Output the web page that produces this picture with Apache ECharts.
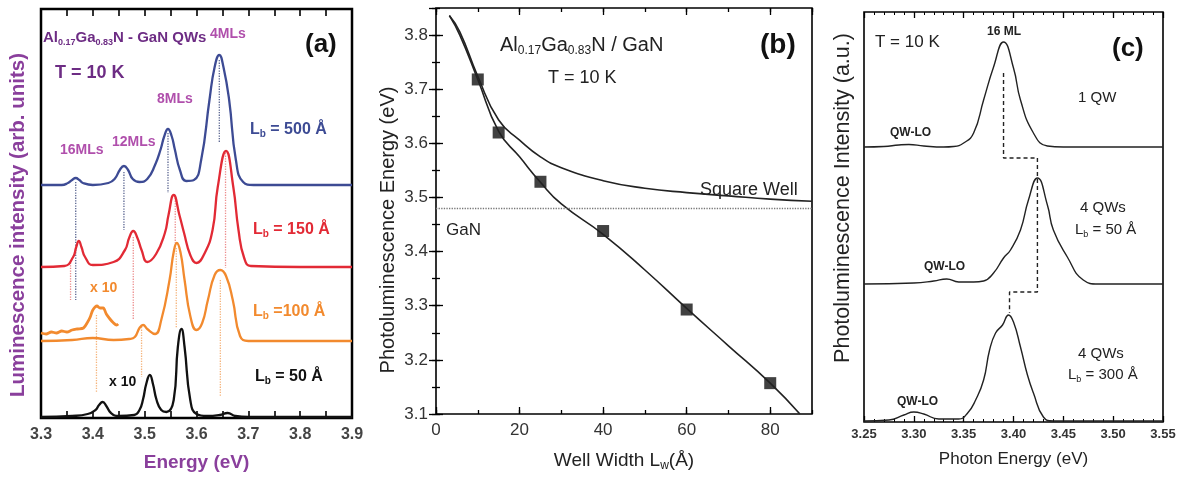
<!DOCTYPE html>
<html><head><meta charset="utf-8">
<script src="https://cdn.jsdelivr.net/npm/echarts@6/dist/echarts.min.js"></script>
<style>html,body{margin:0;padding:0;background:#fff}#c{width:1183px;height:477px}</style>
</head><body><div id="c"></div>
<script>
// ---------- Panel (a): PL spectra, energy (eV) vs intensity (arb. units, offset) ----------
const aLb500 = [[3.30,23.3],[3.34,23.3],[3.352,23.5],[3.360,23.8],[3.367,24.0],[3.374,23.8],[3.381,23.5],[3.40,23.3],[3.43,23.5],[3.442,23.9],[3.452,24.8],[3.460,25.2],[3.468,24.8],[3.477,23.9],[3.490,23.6],[3.505,23.9],[3.520,25.3],[3.531,26.9],[3.538,28.2],[3.545,28.9],[3.552,28.2],[3.558,26.9],[3.568,24.8],[3.580,23.7],[3.595,23.8],[3.609,25.8],[3.625,31.8],[3.635,35.1],[3.644,36.3],[3.652,35.1],[3.663,31.8],[3.676,25.8],[3.690,23.6],[3.71,23.3],[3.80,23.3],[3.90,23.3]];
const aLb150 = [[3.30,15.1],[3.345,15.2],[3.362,16.1],[3.368,17.1],[3.373,17.7],[3.378,17.1],[3.385,16.1],[3.40,15.3],[3.44,15.6],[3.462,16.8],[3.470,18.0],[3.478,18.7],[3.486,18.0],[3.494,16.8],[3.505,15.6],[3.522,16.4],[3.539,18.5],[3.546,20.3],[3.556,22.3],[3.567,20.3],[3.576,18.5],[3.588,16.3],[3.600,15.5],[3.615,16.4],[3.631,18.8],[3.641,23.1],[3.657,26.7],[3.671,23.1],[3.681,18.8],[3.692,16.0],[3.705,15.2],[3.80,15.1],[3.90,15.1]];
const aLb100 = [[3.30,7.7],[3.36,7.8],[3.40,8.0],[3.44,7.8],[3.470,7.9],[3.481,8.1],[3.490,9.0],[3.497,9.3],[3.505,8.9],[3.520,8.4],[3.532,9.8],[3.548,13.8],[3.556,16.6],[3.562,17.5],[3.569,16.6],[3.577,13.8],[3.588,10.2],[3.600,8.8],[3.611,9.5],[3.622,11.8],[3.635,14.3],[3.646,14.8],[3.657,14.2],[3.670,11.8],[3.684,8.2],[3.700,7.7],[3.80,7.7],[3.90,7.7]];
const aLb100x10 = [[3.300,8.5],[3.310,8.4],[3.320,8.6],[3.330,8.5],[3.340,8.7],[3.350,8.6],[3.360,8.8],[3.370,8.9],[3.382,9.0],[3.390,9.6],[3.395,10.1],[3.400,10.8],[3.408,11.2],[3.414,11.0],[3.420,11.0],[3.426,10.4],[3.433,9.9],[3.440,9.5],[3.446,9.3],[3.449,9.4]];
const aLb50 = [[3.30,0.1],[3.36,0.2],[3.39,0.4],[3.405,0.8],[3.412,1.3],[3.419,1.6],[3.426,1.2],[3.435,0.5],[3.45,0.2],[3.48,0.3],[3.490,0.8],[3.497,1.9],[3.503,3.4],[3.510,4.3],[3.516,3.4],[3.523,1.8],[3.532,0.8],[3.542,0.6],[3.556,1.8],[3.564,7.1],[3.571,8.9],[3.577,7.1],[3.588,1.8],[3.600,0.4],[3.62,0.2],[3.645,0.3],[3.660,0.5],[3.675,0.2],[3.70,0.1],[3.90,0.1]];
// dotted guide lines: [energy, top, bottom]
const aGuideBlue = [[3.367,23.6,11.8],[3.460,24.6,18.8],[3.545,28.5,22.5],[3.644,35.8,27.5]];
const aGuideRed = [[3.357,15.8,11.8],[3.478,18.1,9.8],[3.559,22.0,17.5],[3.656,26.5,15.0]];
const aGuideOrange = [[3.407,10.3,2.6],[3.494,9.1,4.1],[3.561,17.0,9.0],[3.646,13.8,2.1]];

// ---------- Panel (b): PL energy vs well width ----------
const bWellWidth = [10, 15, 25, 40, 60, 80];
const bEnergy = [3.718, 3.620, 3.529, 3.438, 3.293, 3.157];
const bFitW = [3.2, 5.7, 10, 15, 20, 25, 30, 40, 50, 60, 70, 80, 87.1];
const bFitE = [3.836, 3.800, 3.718, 3.622, 3.575, 3.528, 3.488, 3.432, 3.366, 3.295, 3.226, 3.157, 3.100];
const bSqW = [3.2, 5.7, 10, 15, 20, 25, 30, 40, 50, 60, 70, 80, 90];
const bSqE = [3.836, 3.806, 3.724, 3.643, 3.606, 3.575, 3.555, 3.531, 3.517, 3.509, 3.503, 3.497, 3.493];
const bGaN = 3.48;

// ---------- Panel (c): PL spectra ----------
const c1QW = [[3.25,27.5],[3.27,27.55],[3.285,27.7],[3.295,27.75],[3.31,27.6],[3.33,27.5],[3.34,27.55],[3.35,27.9],[3.36,28.9],[3.37,32.2],[3.38,35.5],[3.39,38.0],[3.40,35.4],[3.407,32.2],[3.42,28.9],[3.434,27.6],[3.45,27.5],[3.55,27.5]];
const c4QW50 = [[3.25,13.8],[3.30,13.9],[3.32,14.1],[3.333,14.3],[3.345,14.0],[3.36,14.0],[3.37,14.1],[3.38,14.9],[3.39,16.4],[3.397,17.2],[3.407,19.2],[3.415,22.2],[3.424,24.4],[3.434,21.7],[3.44,19.2],[3.454,16.5],[3.47,14.2],[3.485,13.8],[3.55,13.8]];
const c4QW300 = [[3.25,0.1],[3.275,0.2],[3.29,0.7],[3.30,1.0],[3.31,0.8],[3.325,0.3],[3.345,0.3],[3.354,0.9],[3.362,2.2],[3.37,4.2],[3.376,7.2],[3.382,8.9],[3.389,9.7],[3.395,10.7],[3.40,10.0],[3.407,7.5],[3.414,4.7],[3.42,2.9],[3.43,0.5],[3.44,0.1],[3.55,0.1]];
const cGuide = [[3.390,34.9],[3.390,26.4],[3.424,26.4],[3.424,13.0],[3.396,13.0],[3.396,10.9]];

const F = "'Liberation Sans', Arial, sans-serif";
const BLUE = '#3d4b94', RED = '#e22a35', ORANGE = '#f28a2e', PURPLE = '#6d2c84', PINK = '#b04fac';

function txt(x, y, text, size, color, weight, subSize) {
  const sub = subSize || Math.round(size * 0.6);
  return {
    type: 'text', x: x, y: y, silent: true,
    style: {
      text: text, fill: color, fontSize: size, fontWeight: weight || 'normal', fontFamily: F,
      align: 'left', verticalAlign: 'middle', lineHeight: size + 3,
      rich: { s: { fontSize: sub, fontWeight: weight || 'normal', fontFamily: F, fill: color, verticalAlign: 'bottom', lineHeight: 6 } }
    }
  };
}
function vtxt(x, y, text, size, color, weight) {
  return {
    type: 'text', x: x, y: y, rotation: Math.PI / 2, silent: true,
    style: { text: text, fill: color, fontSize: size, fontWeight: weight || 'normal', fontFamily: F,
      align: 'center', verticalAlign: 'middle' }
  };
}

function lineS(data, color, width, xi, yi, extra) {
  return Object.assign({
    type: 'line', data: data, xAxisIndex: xi, yAxisIndex: yi, showSymbol: false, symbol: 'none',
    smooth: 0.5, silent: true,
    lineStyle: { color: color, width: width }
  }, extra || {});
}

function guides(list, color, xi, yi) {
  return list.map(g => ({
    type: 'line', xAxisIndex: xi, yAxisIndex: yi, symbol: 'none', silent: true, z: 1,
    data: [[g[0], g[1]], [g[0], g[2]]],
    lineStyle: { color: color, width: 1.3, type: 'dotted' }
  }));
}

const tickStyle = (len, w) => ({ show: true, inside: true, length: len, lineStyle: { color: '#000', width: w || 1.3 } });
const noAxis = { axisLine: { show: false }, splitLine: { show: false } };

const xAxis = [
  Object.assign({ type: 'value', gridIndex: 0, position: 'bottom', min: 3.3, max: 3.9, interval: 0.1,
    axisTick: tickStyle(7, 1.6), minorTick: { show: true, splitNumber: 2, length: 7, lineStyle: { color: '#000', width: 1.6 } },
    axisLabel: { formatter: v => v.toFixed(1), fontSize: 16, fontWeight: 'bold', fontFamily: F, color: '#444', margin: 9 },
    name: 'Energy (eV)', nameLocation: 'middle', nameGap: 35,
    nameTextStyle: { fontSize: 19, fontWeight: 'bold', fontFamily: F, color: '#8a3f9c' } }, noAxis),
  Object.assign({ type: 'value', gridIndex: 0, position: 'top', min: 3.3, max: 3.9, interval: 0.1,
    axisTick: tickStyle(7, 1.6), minorTick: { show: true, splitNumber: 2, length: 7, lineStyle: { color: '#000', width: 1.6 } },
    axisLabel: { show: false } }, noAxis),
  Object.assign({ type: 'value', gridIndex: 1, position: 'bottom', min: 0, max: 90, interval: 20,
    axisTick: tickStyle(7), axisLabel: { showMaxLabel: false, fontSize: 17, fontFamily: F, color: '#333', margin: 8 },
    name: 'Well Width L{s|w}(Å)', nameLocation: 'middle', nameGap: 36,
    nameTextStyle: { fontSize: 19, fontFamily: F, color: '#222', lineHeight: 22,
      rich: { s: { fontSize: 12, fontFamily: F, color: '#222', verticalAlign: 'bottom', lineHeight: 6 } } } }, noAxis),
  Object.assign({ type: 'value', gridIndex: 1, position: 'bottom', min: 0, max: 90, interval: 10,
    axisTick: tickStyle(4), axisLabel: { show: false } }, noAxis),
  Object.assign({ type: 'value', gridIndex: 1, position: 'top', min: 0, max: 90, interval: 20,
    axisTick: tickStyle(7), axisLabel: { show: false } }, noAxis),
  Object.assign({ type: 'value', gridIndex: 1, position: 'top', min: 0, max: 90, interval: 10,
    axisTick: tickStyle(4), axisLabel: { show: false } }, noAxis),
  Object.assign({ type: 'value', gridIndex: 2, position: 'bottom', min: 3.25, max: 3.55, interval: 0.05,
    axisTick: tickStyle(6), minorTick: { show: true, splitNumber: 5, length: 3, lineStyle: { color: '#000', width: 1 } },
    axisLabel: { formatter: v => v.toFixed(2), fontSize: 13, fontWeight: 'bold', fontFamily: F, color: '#333', margin: 6 },
    name: 'Photon Energy (eV)', nameLocation: 'middle', nameGap: 29,
    nameTextStyle: { fontSize: 17, fontFamily: F, color: '#222' } }, noAxis),
  Object.assign({ type: 'value', gridIndex: 2, position: 'top', min: 3.25, max: 3.55, interval: 0.05,
    axisTick: tickStyle(6), minorTick: { show: true, splitNumber: 5, length: 3, lineStyle: { color: '#000', width: 1 } },
    axisLabel: { show: false } }, noAxis)
];

const yAxis = [
  Object.assign({ type: 'value', gridIndex: 0, position: 'left', min: 0, max: 40.9,
    axisTick: { show: false }, axisLabel: { show: false } }, noAxis),
  Object.assign({ type: 'value', gridIndex: 1, position: 'left', min: 3.1, max: 3.85, interval: 0.1,
    axisTick: tickStyle(7), axisLabel: { showMaxLabel: false, formatter: v => v.toFixed(1), fontSize: 17, fontFamily: F, color: '#333', margin: 8 } }, noAxis),
  Object.assign({ type: 'value', gridIndex: 1, position: 'left', min: 3.1, max: 3.85, interval: 0.05,
    axisTick: tickStyle(4), axisLabel: { show: false } }, noAxis),
  Object.assign({ type: 'value', gridIndex: 1, position: 'right', min: 3.1, max: 3.85, interval: 0.1,
    axisTick: tickStyle(7), axisLabel: { show: false } }, noAxis),
  Object.assign({ type: 'value', gridIndex: 1, position: 'right', min: 3.1, max: 3.85, interval: 0.05,
    axisTick: tickStyle(4), axisLabel: { show: false } }, noAxis),
  Object.assign({ type: 'value', gridIndex: 2, position: 'left', min: 0, max: 41,
    axisTick: { show: false }, axisLabel: { show: false } }, noAxis)
];

const series = [].concat(
  guides(aGuideBlue, '#5a6590', 0, 0),
  guides(aGuideRed, '#ec8c8c', 0, 0),
  guides(aGuideOrange, '#f5b37a', 0, 0),
  [
    lineS(aLb500, BLUE, 2.3, 0, 0),
    lineS(aLb150, RED, 2.3, 0, 0),
    lineS(aLb100x10, ORANGE, 2.8, 0, 0, { smooth: 0.3 }),
    lineS(aLb100, ORANGE, 2.3, 0, 0),
    lineS(aLb50, '#111', 2.3, 0, 0),
    lineS(bFitW.map((w, i) => [w, bFitE[i]]), '#222', 1.6, 2, 1, {
      markLine: { silent: true, symbol: ['none', 'none'], label: { show: false },
        lineStyle: { type: 'dotted', color: '#777', width: 1.3 }, data: [{ yAxis: bGaN }] } }),
    lineS(bSqW.map((w, i) => [w, bSqE[i]]), '#222', 1.6, 2, 1),
    { type: 'scatter', xAxisIndex: 2, yAxisIndex: 1, symbol: 'rect', symbolSize: 12, silent: true,
      itemStyle: { color: '#111' }, data: bWellWidth.map((w, i) => [w, bEnergy[i]]) },
    lineS(c1QW, '#222', 1.4, 6, 5),
    lineS(c4QW50, '#222', 1.4, 6, 5),
    lineS(c4QW300, '#222', 1.4, 6, 5),
    { type: 'line', xAxisIndex: 6, yAxisIndex: 5, symbol: 'none', silent: true, data: cGuide,
      lineStyle: { color: '#222', width: 1.4, type: [4, 3] } }
  ]
);

const graphic = [
  vtxt(18, 225, 'Luminescence intensity (arb. units)', 20.5, '#8a3f9c', 'bold'),
  vtxt(388, 230, 'Photoluminescence Energy (eV)', 20, '#222'),
  vtxt(843, 198, 'Photoluminescence Intensity (a.u.)', 21.5, '#222'),
  txt(43, 38, 'Al{s|0.17}Ga{s|0.83}N - GaN QWs', 15, PURPLE, 'bold', 9),
  txt(55, 73, 'T = 10 K', 18, PURPLE, 'bold'),
  txt(210, 34, '4MLs', 14, PINK, 'bold'),
  txt(157, 99, '8MLs', 14, PINK, 'bold'),
  txt(112, 142, '12MLs', 14, PINK, 'bold'),
  txt(60, 150, '16MLs', 14, PINK, 'bold'),
  txt(305, 45, '(a)', 26, '#111', 'bold'),
  txt(250, 130, 'L{s|b} = 500 Å', 16, BLUE, 'bold', 10),
  txt(253, 230, 'L{s|b} = 150 Å', 16, RED, 'bold', 10),
  txt(253, 312, 'L{s|b} =100 Å', 16, ORANGE, 'bold', 10),
  txt(255, 377, 'L{s|b} = 50 Å', 16, '#111', 'bold', 10),
  txt(90, 288, 'x 10', 14, ORANGE, 'bold'),
  txt(109, 382, 'x 10', 14, '#111', 'bold'),
  txt(500, 45, 'Al{s|0.17}Ga{s|0.83}N / GaN', 20, '#222', 'normal', 12),
  txt(548, 78, 'T = 10 K', 18, '#222'),
  txt(760, 45, '(b)', 28, '#111', 'bold'),
  txt(700, 190, 'Square Well', 18, '#222'),
  txt(446, 230, 'GaN', 17, '#222'),
  txt(875, 42, 'T = 10 K', 17, '#222'),
  txt(987, 32, '16 ML', 12, '#222', 'bold'),
  txt(1112, 49, '(c)', 26, '#111', 'bold'),
  txt(1078, 98, '1 QW', 15, '#222'),
  txt(1080, 208, '4 QWs', 15, '#222'),
  txt(1075, 230, 'L{s|b} = 50 Å', 15, '#222', 'normal', 9),
  txt(1078, 354, '4 QWs', 15, '#222'),
  txt(1068, 375, 'L{s|b} = 300 Å', 15, '#222', 'normal', 9),
  txt(890, 133, 'QW-LO', 12, '#222', 'bold'),
  txt(924, 267, 'QW-LO', 12, '#222', 'bold'),
  txt(897, 402, 'QW-LO', 12, '#222', 'bold')
];

const chart = echarts.init(document.getElementById('c'), null, { renderer: 'canvas' });
chart.setOption({
  animation: false,
  backgroundColor: '#fff',
  grid: [
    { left: 41, top: 9, width: 311, height: 409, show: true, borderColor: '#000', borderWidth: 2.5 },
    { left: 436, top: 8, width: 376, height: 410, show: true, borderColor: '#000', borderWidth: 1.6 },
    { left: 864, top: 12, width: 299, height: 410, show: true, borderColor: '#000', borderWidth: 1.6 }
  ],
  xAxis: xAxis,
  yAxis: yAxis,
  series: series,
  graphic: graphic
});
</script></body></html>
